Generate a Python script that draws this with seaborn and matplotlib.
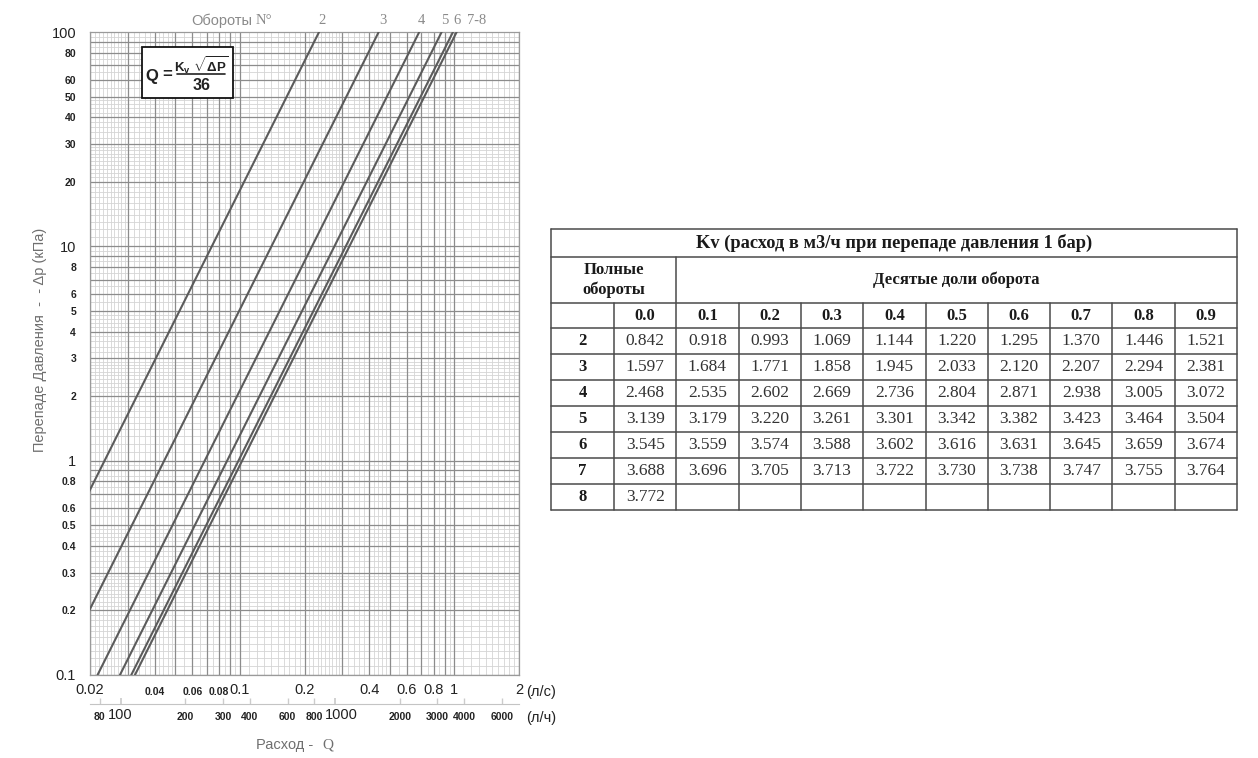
import numpy as np
import pandas as pd
import seaborn as sns
import matplotlib.pyplot as plt
import matplotlib.transforms as mtransforms
from matplotlib.patches import Rectangle
from matplotlib.lines import Line2D

sns.set_theme(style="white")
plt.rcParams["font.family"] = ["Liberation Sans", "DejaVu Sans"]
plt.rcParams["mathtext.fontset"] = "custom"
plt.rcParams["mathtext.rm"] = "Liberation Sans"
plt.rcParams["mathtext.bf"] = "Liberation Sans:bold"
SERIF = ["Liberation Serif", "DejaVu Serif"]

# Kv table (m3/h at 1 bar), rows = full turns, columns = tenths of a turn
full_turns = ["2", "3", "4", "5", "6", "7", "8"]
tenths = ["0.0", "0.1", "0.2", "0.3", "0.4", "0.5", "0.6", "0.7", "0.8", "0.9"]
kv_2 = [0.842, 0.918, 0.993, 1.069, 1.144, 1.220, 1.295, 1.370, 1.446, 1.521]
kv_3 = [1.597, 1.684, 1.771, 1.858, 1.945, 2.033, 2.120, 2.207, 2.294, 2.381]
kv_4 = [2.468, 2.535, 2.602, 2.669, 2.736, 2.804, 2.871, 2.938, 3.005, 3.072]
kv_5 = [3.139, 3.179, 3.220, 3.261, 3.301, 3.342, 3.382, 3.423, 3.464, 3.504]
kv_6 = [3.545, 3.559, 3.574, 3.588, 3.602, 3.616, 3.631, 3.645, 3.659, 3.674]
kv_7 = [3.688, 3.696, 3.705, 3.713, 3.722, 3.730, 3.738, 3.747, 3.755, 3.764]
kv_8 = [3.772]
kv_rows = [kv_2, kv_3, kv_4, kv_5, kv_6, kv_7, kv_8]

# lines on the chart (whole turns)
line_labels = ["2", "3", "4", "5", "6", "7-8"]
line_kv = [kv_2[0], kv_3[0], kv_4[0], kv_5[0], kv_6[0], kv_7[0]]
dp_ends = [0.1, 100.0]  # kPa

# axis ticks
x_major = [0.02, 0.1, 0.2, 0.4, 0.6, 0.8, 1, 2]
x_major_lbl = ["0.02", "0.1", "0.2", "0.4", "0.6", "0.8", "1", "2"]
x_minor = [0.04, 0.06, 0.08]
x_minor_lbl = ["0.04", "0.06", "0.08"]
lh_major = [100, 1000]
lh_major_lbl = ["100", "1000"]
lh_minor = [80, 200, 300, 400, 600, 800, 2000, 3000, 4000, 6000]
lh_minor_lbl = ["80", "200", "300", "400", "600", "800", "2000", "3000", "4000", "6000"]
y_major = [0.1, 1, 10, 100]
y_major_lbl = ["0.1", "1", "10", "100"]
y_minor = [0.2, 0.3, 0.4, 0.5, 0.6, 0.8, 2, 3, 4, 5, 6, 8, 20, 30, 40, 50, 60, 80]
y_minor_lbl = ["0.2", "0.3", "0.4", "0.5", "0.6", "0.8", "2", "3", "4", "5", "6", "8",
               "20", "30", "40", "50", "60", "80"]

W, H = 1258, 758


def px_box(x0, y0, x1, y1):
    return [x0 / W, 1 - y1 / H, (x1 - x0) / W, (y1 - y0) / H]


def ptext(x, y, s, **kw):
    return fig.text(x / W, 1 - y / H, s, **kw)


fig = plt.figure(figsize=(W / 100, H / 100), dpi=100)
ax = fig.add_axes(px_box(90, 32, 519, 675))

rows = []
for lab, kv in zip(line_labels, line_kv):
    for dp in dp_ends:
        rows.append({"turn": lab, "dp": dp, "q": kv * np.sqrt(dp) / 36})
curves = pd.DataFrame(rows)

sns.lineplot(data=curves, x="q", y="dp", hue="turn", palette=["#5b5b5b"] * len(line_labels),
             estimator=None, sort=False, legend=False, lw=1.5, ax=ax, zorder=3)
ax.set_xscale("log")
ax.set_yscale("log")
ax.set_xlim(0.02, 2)
ax.set_ylim(0.1, 100)
ax.set_xlabel("")
ax.set_ylabel("")

# log paper grid
fine = np.r_[np.arange(1.1, 3, 0.1), np.arange(3.2, 5, 0.2), np.arange(5.5, 10, 0.5)]
for d in [0.01, 0.1, 1]:
    for m in range(1, 10):
        ax.axvline(d * m, color="#8c8c8c", lw=0.9, zorder=1)
    for f in fine:
        ax.axvline(d * f, color="#d4d4d4", lw=0.6, zorder=0.5)
for d in [0.1, 1, 10]:
    for m in range(1, 10):
        ax.axhline(d * m, color="#8c8c8c", lw=0.9, zorder=1)
    for f in fine:
        ax.axhline(d * f, color="#d4d4d4", lw=0.6, zorder=0.5)
for s in ax.spines.values():
    s.set_color("#9a9a9a")
    s.set_linewidth(0.9)

ax.set_xticks(x_major, labels=x_major_lbl, fontsize=10.5, color="#222222")
ax.set_xticks(x_minor, labels=x_minor_lbl, minor=True, fontsize=7.5, fontweight="bold", color="#222222")
ax.set_yticks(y_major, labels=y_major_lbl, fontsize=10.5, color="#222222")
ax.set_yticks(y_minor, labels=y_minor_lbl, minor=True, fontsize=7.5, fontweight="bold", color="#222222")
ax.tick_params(axis="x", which="major", length=0, pad=6)
ax.tick_params(axis="x", which="minor", length=0, pad=8.5)
ax.tick_params(axis="y", which="both", length=0, pad=10)

# second scale in l/h
sec = ax.secondary_xaxis(-0.045, functions=(lambda x: x * 3600, lambda x: x / 3600))
sec.set_xticks(lh_major, labels=lh_major_lbl, fontsize=10.5, color="#222222")
sec.set_xticks(lh_minor, labels=lh_minor_lbl, minor=True, fontsize=7.5, fontweight="bold", color="#222222")
sec.tick_params(axis="x", which="major", length=4, direction="in", color="#cccccc", pad=3)
sec.tick_params(axis="x", which="minor", length=4, direction="in", color="#cccccc", pad=5.5)
sec.spines["bottom"].set_color("#c4c4c4")
sec.spines["bottom"].set_linewidth(0.8)
# nudge "1000" right so it clears "800" as in the original scale
lbl_1000 = sec.xaxis.get_majorticklabels()[1]
lbl_1000.set_transform(lbl_1000.get_transform()
                       + mtransforms.ScaledTranslation(6 / 100, 0, fig.dpi_scale_trans))

ptext(526, 692, "(л/с)", fontsize=10.5, va="center", ha="left", color="#222222")
ptext(526, 718, "(л/ч)", fontsize=10.5, va="center", ha="left", color="#222222")

# turn labels above the chart
dx_px = [3, 4, 2, 3, 4, 10]
for lab, kv, dx in zip(line_labels, line_kv, dx_px):
    ax.annotate(lab, xy=(kv * np.sqrt(dp_ends[1]) / 36, 1), xycoords=("data", "axes fraction"),
                xytext=(dx * 0.72, 8), textcoords="offset points",
                ha="left" if lab == "7-8" else "center", va="center",
                fontsize=10.5, family=SERIF, color="#8a8a8a")
ptext(252, 21, "Обороты", fontsize=10.5, ha="right", va="center", color="#8a8a8a")
ptext(256, 21, "N°", fontsize=10.5, ha="left", va="center", family=SERIF, color="#8a8a8a")

# axis titles
ptext(40, 340, "Перепаде Давления  -  - Δp (кПа)", rotation=90, fontsize=10.5,
      ha="center", va="center", color="#6f6f6f")
ptext(313, 745, "Расход -", fontsize=10.5, ha="right", va="center", color="#6f6f6f")
ptext(322, 745, "Q", fontsize=11, ha="left", va="center", family=SERIF, color="#6f6f6f")

# formula box
ax.add_patch(Rectangle((0.121, 0.897), 0.212, 0.08, transform=ax.transAxes,
                       fc="white", ec="#111111", lw=1.3, zorder=5))
fkw = dict(fontweight="bold", color="#222222", zorder=6)
ptext(145, 76, "Q", fontsize=12, ha="left", va="center", **fkw)
ptext(167, 75, "=", fontsize=12, ha="center", va="center", **fkw)
ptext(201, 65, r"$\mathbf{K}_{\mathbf{v}}\ \sqrt{\mathbf{\Delta P}}$", fontsize=9.5,
      ha="center", va="center", **fkw)
ptext(202, 85, "36", fontsize=11.5, ha="center", va="center", **fkw)
fig.add_artist(Line2D([177 / W, 225 / W], [1 - 74 / H, 1 - 74 / H], color="#222222",
                      lw=1.2, zorder=6))

# Kv table
tax = fig.add_axes(px_box(551, 229, 1237, 510))
tax.set_xlim(551, 1237)
tax.set_ylim(510, 229)
tax.axis("off")
col_x = [551] + list(np.linspace(614, 1237, 11))
row_y = [229, 257, 303] + [328 + 26 * i for i in range(8)]
lc = "#4a4a4a"
for y in row_y:
    tax.plot([551, 1237], [y, y], color=lc, lw=1.1, clip_on=False)
for i, x in enumerate(col_x):
    top = 229 if i in (0, len(col_x) - 1) else (257 if i == 2 else 303)
    tax.plot([x, x], [top, 510], color=lc, lw=1.1, clip_on=False)

tax.text(894, 243, "Kv (расход в м3/ч при перепаде давления 1 бар)", ha="center", va="center",
         fontsize=13.2, fontweight="bold", family=SERIF, color="#1a1a1a")
tax.text((551 + 676) / 2, 280, "Полные\nобороты", ha="center", va="center", linespacing=1.2,
         fontsize=12, fontweight="bold", family=SERIF, color="#1a1a1a")
tax.text((676 + 1237) / 2, 280, "Десятые доли оборота", ha="center", va="center",
         fontsize=12, fontweight="bold", family=SERIF, color="#1a1a1a")
for j, t in enumerate(tenths):
    tax.text((col_x[j + 1] + col_x[j + 2]) / 2, 316, t, ha="center", va="center",
             fontsize=12, fontweight="bold", family=SERIF, color="#1a1a1a")
for i, (turn, vals) in enumerate(zip(full_turns, kv_rows)):
    yc = 341 + 26 * i
    tax.text((col_x[0] + col_x[1]) / 2, yc, turn, ha="center", va="center",
             fontsize=12, fontweight="bold", family=SERIF, color="#1a1a1a")
    for j, v in enumerate(vals):
        tax.text((col_x[j + 1] + col_x[j + 2]) / 2, yc, f"{v:.3f}", ha="center", va="center",
                 fontsize=12.5, family=SERIF, color="#333333")

fig.savefig("out.png", dpi=100)
